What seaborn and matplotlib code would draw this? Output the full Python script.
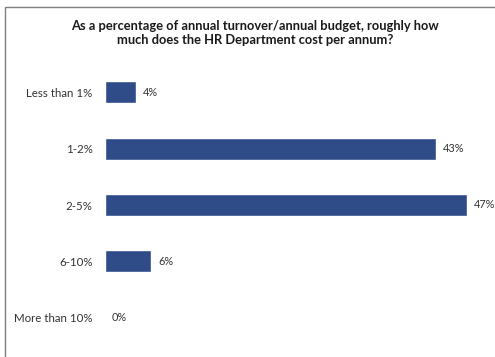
import matplotlib
matplotlib.use("Agg")
import matplotlib.pyplot as plt
import matplotlib.patches as mpatches
import seaborn as sns
import pandas as pd

categories = ["Less than 1%", "1-2%", "2-5%", "6-10%", "More than 10%"]
values = [4, 43, 47, 6, 0]
value_labels = ["4%", "43%", "47%", "6%", "0%"]

title = ("As a percentage of annual turnover/annual budget, roughly how\n"
         "much does the HR Department cost per annum?")

sns.set_theme(style="white")
plt.rcParams["font.family"] = ["Lato", "DejaVu Sans"]

df = pd.DataFrame({"category": categories, "value": values})

fig = plt.figure(figsize=(4.95, 3.57), dpi=100)
fig.patch.set_facecolor("white")

# chart frame
fig.add_artist(mpatches.Rectangle((5 / 495, -0.1), 1.2, 1 - 7 / 357 + 0.1,
                                  transform=fig.transFigure, fill=False,
                                  edgecolor="#7f7f7f", linewidth=1.0))

ax = fig.add_axes([105 / 495, 11 / 357, 385 / 495, 282 / 357])
sns.barplot(data=df, x="value", y="category", orient="h", color="#2F4B88",
            saturation=1, width=0.39, ax=ax)

ax.set_xlim(0, 50)
ax.set_ylim(4.5, -0.5)
ax.set_xlabel("")
ax.set_ylabel("")
ax.set_xticks([])
for s in ax.spines.values():
    s.set_visible(False)
ax.tick_params(axis="y", length=0, pad=9, labelsize=8.3, labelcolor="#333333")

for i, (v, lab) in enumerate(zip(values, value_labels)):
    ax.annotate(lab, (v, i), xytext=(5, 0), textcoords="offset points",
                ha="left", va="center", fontsize=7.8, color="#333333")

fig.text(255 / 495, 1 - 33 / 357, title, ha="center", va="center",
         fontsize=9.3, fontweight="bold", color="#1a1a1a", linespacing=1.3)

fig.savefig("out.png", dpi=100, facecolor="white")
